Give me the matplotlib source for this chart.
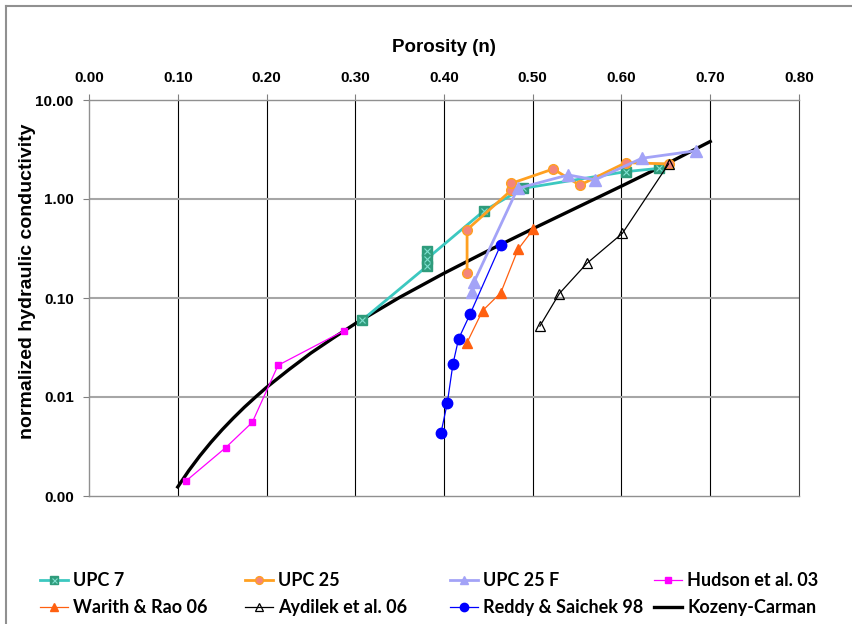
import matplotlib
matplotlib.use("Agg")
import matplotlib.pyplot as plt
from matplotlib.lines import Line2D
from matplotlib.legend_handler import HandlerTuple
from matplotlib.ticker import FixedLocator, FixedFormatter, NullLocator

# ---------------- data ----------------
upc7_n = [0.308, 0.381, 0.381, 0.381, 0.445, 0.489, 0.605, 0.642]
upc7_k = [0.060, 0.21, 0.30, 0.25, 0.76, 1.28, 1.89, 2.04]

upc25_n = [0.426, 0.426, 0.476, 0.476, 0.523, 0.553, 0.605, 0.653]
upc25_k = [0.18, 0.49, 1.23, 1.44, 2.01, 1.38, 2.33, 2.26]

upc25f_n = [0.432, 0.434, 0.483, 0.540, 0.570, 0.623, 0.684]
upc25f_k = [0.115, 0.146, 1.28, 1.75, 1.56, 2.58, 3.07]

hudson_n = [0.109, 0.154, 0.184, 0.213, 0.287]
hudson_k = [0.00141, 0.00308, 0.00555, 0.0209, 0.0465]

warith_n = [0.4255, 0.4435, 0.464, 0.4834, 0.5006]
warith_k = [0.0348, 0.0745, 0.113, 0.310, 0.494]

aydilek_n = [0.508, 0.530, 0.561, 0.601, 0.653]
aydilek_k = [0.052, 0.111, 0.224, 0.450, 2.26]

reddy_n = [0.3966, 0.4037, 0.4101, 0.4165, 0.4293, 0.4638]
reddy_k = [0.00435, 0.00869, 0.0216, 0.0388, 0.0684, 0.343]

kc_n = [0.10, 0.1125, 0.125, 0.1375, 0.15, 0.1625, 0.175, 0.1875, 0.20, 0.225,
        0.25, 0.275, 0.30, 0.35, 0.40, 0.45, 0.50, 0.55, 0.60, 0.65, 0.70]
kc_k = [0.001235, 0.001808, 0.002551, 0.003495, 0.004671, 0.006110, 0.007874,
        0.009964, 0.0125, 0.01884, 0.02778, 0.03935, 0.05510, 0.1015, 0.1778,
        0.3012, 0.5, 0.8216, 1.35, 2.242, 3.811]

x_ticks = [0.0, 0.1, 0.2, 0.3, 0.4, 0.5, 0.6, 0.7, 0.8]
x_labels = ["0.00", "0.10", "0.20", "0.30", "0.40", "0.50", "0.60", "0.70", "0.80"]
y_ticks = [0.001, 0.01, 0.1, 1.0, 10.0]
y_labels = ["0.00", "0.01", "0.10", "1.00", "10.00"]

plt.rcParams["font.family"] = ["Liberation Sans", "DejaVu Sans"]

# ---------------- figure ----------------
W, H = 853, 624
fig = plt.figure(figsize=(W / 100, H / 100), dpi=100)
ax = fig.add_axes([89 / W, 1 - 496 / H, (799 - 89) / W, (496 - 100) / H])

LEG_FONT = ["Lato", "DejaVu Sans"]

ax.set_yscale("log")
ax.set_xlim(0.0, 0.8)
ax.set_ylim(0.001, 10.0)

# grid
for xv in x_ticks[1:-1]:
    ax.axvline(xv, color="black", lw=0.8, zorder=1)
for yv in y_ticks[1:-1]:
    ax.axhline(yv, color="#a6a6a6", lw=1.5, zorder=1)

# Kozeny-Carman
ax.plot(kc_n, kc_k, color="black", lw=2.4, zorder=2, solid_joinstyle="round")

# UPC 7
upc7_line, = ax.plot(upc7_n, upc7_k, color="#3cc8c0", lw=2.0, marker="s", ms=7,
                     mfc="#2f9c7c", mec="#2f9c7c", zorder=3)
upc7_x, = ax.plot(upc7_n, upc7_k, ls="none", marker="x", ms=4.5, mew=0.8,
                  color="#7fe0d0", zorder=3.1)
# UPC 25
upc25_line, = ax.plot(upc25_n, upc25_k, color="#ffa020", lw=2.0, marker="o", ms=7,
                      mfc="#f4857a", mec="#ffa020", mew=1.0, zorder=3.2)
# UPC 25 F
upc25f_line, = ax.plot(upc25f_n, upc25f_k, color="#a3a3f7", lw=2.0, marker="^", ms=8,
                       mfc="#a3a3f7", mec="#a3a3f7", zorder=3.3)
# Hudson
hudson_line, = ax.plot(hudson_n, hudson_k, color="#ff00ff", lw=0.9, marker="s", ms=5,
                       mfc="#ff00ff", mec="#ff00ff", zorder=3.4)
# Warith & Rao
warith_line, = ax.plot(warith_n, warith_k, color="#ff6010", lw=0.9, marker="^", ms=7.5,
                       mfc="#ff6010", mec="#ff6010", zorder=3.5)
# Aydilek
aydilek_line, = ax.plot(aydilek_n, aydilek_k, color="black", lw=0.9, marker="^", ms=7.5,
                        mfc="none", mec="black", mew=0.9, zorder=3.6)
# Reddy & Saichek
reddy_line, = ax.plot(reddy_n, reddy_k, color="#0000ff", lw=0.9, marker="o", ms=7.5,
                      mfc="#0000ff", mec="#0000ff", zorder=3.7)

kc_handle = Line2D([], [], color="black", lw=2.4)

# axes formatting
ax.xaxis.set_major_locator(FixedLocator(x_ticks))
ax.xaxis.set_major_formatter(FixedFormatter(x_labels))
ax.yaxis.set_major_locator(FixedLocator(y_ticks))
ax.yaxis.set_major_formatter(FixedFormatter(y_labels))
ax.yaxis.set_minor_locator(NullLocator())
ax.xaxis.set_minor_locator(NullLocator())
ax.xaxis.tick_top()
ax.tick_params(axis="both", direction="out", length=4, width=0.8, color="#808080",
               labelsize=11)
ax.tick_params(axis="x", pad=7)
ax.tick_params(axis="y", pad=7)
for lab in ax.get_xticklabels() + ax.get_yticklabels():
    lab.set_fontweight("bold")

for side in ["left", "top", "bottom"]:
    ax.spines[side].set_color("#909090")
    ax.spines[side].set_linewidth(1.0)
ax.spines["right"].set_color("#404040")
ax.spines["right"].set_linewidth(0.8)

fig.text(444 / W, 1 - 48 / H, "Porosity (n)", ha="center", va="center",
         fontweight="bold", fontsize=13.5)
fig.text(28 / W, 1 - 281 / H, "normalized hydraulic conductivity", ha="center",
         va="center", rotation=90, fontweight="bold", fontsize=14)

# legend: four fixed columns, two rows each
columns = [
    (40, [((upc7_line, upc7_x), "UPC 7"), (warith_line, "Warith & Rao 06")]),
    (245, [(upc25_line, "UPC 25"), (aydilek_line, "Aydilek et al. 06")]),
    (450, [(upc25f_line, "UPC 25 F"), (reddy_line, "Reddy & Saichek 98")]),
    (654, [(hudson_line, "Hudson et al. 03"), (kc_handle, "Kozeny-Carman")]),
]
FS = 13
for xpix, entries in columns:
    handles = [e[0] for e in entries]
    labels = [e[1] for e in entries]
    fig.legend(handles, labels, loc="center left",
               bbox_to_anchor=(xpix / W, 1 - 594 / H),
               frameon=False, borderpad=0, borderaxespad=0,
               handlelength=28 / (FS * 100 / 72), handletextpad=0.3,
               labelspacing=0.55, numpoints=1, markerscale=0.8,
               prop={"family": LEG_FONT, "weight": "bold", "size": FS},
               handler_map={tuple: HandlerTuple(ndivide=1)})

# figure border (left and top visible)
fig.add_artist(Line2D([6 / W, 6 / W], [0, 1 - 6 / H], color="#909090", lw=1.5,
                      transform=fig.transFigure))
fig.add_artist(Line2D([6 / W, 1], [1 - 6 / H, 1 - 6 / H], color="#909090", lw=1.5,
                      transform=fig.transFigure))

fig.savefig("out.png", dpi=100)
